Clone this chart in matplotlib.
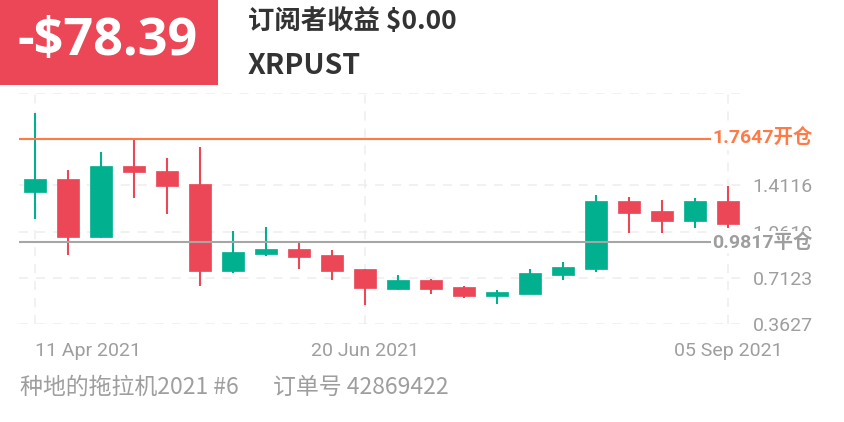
import pandas as pd
import matplotlib.pyplot as plt
import matplotlib.transforms as mtransforms
from matplotlib.patches import Rectangle

plt.rcParams['font.family'] = ['Roboto', 'Noto Sans CJK SC', 'DejaVu Sans']

# Datos semanales (velas)
fechas = ['2021-04-11', '2021-04-18', '2021-04-25', '2021-05-02', '2021-05-09', '2021-05-16',
          '2021-05-23', '2021-05-30', '2021-06-06', '2021-06-13', '2021-06-20', '2021-06-27',
          '2021-07-04', '2021-07-11', '2021-07-18', '2021-07-25', '2021-08-01', '2021-08-08',
          '2021-08-15', '2021-08-22', '2021-08-29', '2021-09-05']
apertura = [1.364, 1.460, 1.022, 1.555, 1.520, 1.419, 0.765, 0.896, 0.933, 0.886, 0.780, 0.631,
            0.699, 0.641, 0.576, 0.591, 0.732, 0.780, 1.296, 1.221, 1.143, 1.296]
maximo = [1.958, 1.525, 1.661, 1.757, 1.621, 1.699, 1.064, 1.094, 0.974, 0.926, 0.780, 0.730,
          0.705, 0.654, 0.618, 0.778, 0.835, 1.342, 1.321, 1.298, 1.316, 1.409]
minimo = [1.158, 0.886, 1.015, 1.316, 1.196, 0.647, 0.750, 0.875, 0.780, 0.694, 0.508, 0.619,
          0.588, 0.558, 0.513, 0.591, 0.692, 0.757, 1.049, 1.049, 1.090, 1.090]
cierre = [1.460, 1.019, 1.555, 1.510, 1.404, 0.765, 0.909, 0.933, 0.868, 0.765, 0.634, 0.699,
          0.629, 0.573, 0.606, 0.748, 0.795, 1.296, 1.205, 1.143, 1.296, 1.117]

precio_apertura = 1.7647
precio_cierre = 0.9817
y_ticks = [0.3627, 0.7123, 1.0619, 1.4116, 1.7612, 2.1108]
y_labels = ['0.3627', '0.7123', '1.0619', '1.4116', '', '']
x_ticks = ['2021-04-11', '2021-06-20', '2021-09-05']
x_labels = ['11 Apr 2021', '20 Jun 2021', '05 Sep 2021']

rojo = '#EB4757'
verde = '#00B08E'
naranja = '#FF7A45'
gris = '#9E9E9E'

df = pd.DataFrame({'date': pd.to_datetime(fechas), 'open': apertura, 'high': maximo,
                   'low': minimo, 'close': cierre})

fig = plt.figure(figsize=(8.44, 4.22), dpi=100)
W, H = 844, 422
ax = fig.add_axes([19 / W, 1 - 324 / H, (743 - 19) / W, (324 - 93) / H])

colores = [verde if c >= o else rojo for o, c in zip(df['open'], df['close'])]
ax.vlines(df['date'], df['low'], df['high'], colors=colores, linewidth=1.5, zorder=3)
ax.bar(df['date'], (df['close'] - df['open']).abs(), bottom=df[['open', 'close']].min(axis=1),
       width=4.67, color=colores, edgecolor=colores, linewidth=0.5, zorder=4)

ax.set_xlim(pd.Timestamp('2021-04-11') - pd.Timedelta(days=3.4),
            pd.Timestamp('2021-09-05') + pd.Timedelta(days=3.2))
ax.set_ylim(y_ticks[0], y_ticks[-1])

# Lineas de apertura y cierre
ax.axhline(precio_apertura, color=naranja, linewidth=1.5, zorder=5)
ax.axhline(precio_cierre, color='#A6A6A6', linewidth=1.5, zorder=5)

# Ejes y rejilla
ax.set_xticks(pd.to_datetime(x_ticks))
ax.set_xticklabels(x_labels, fontsize=14, color=gris)
ax.xaxis.get_ticklabels()[0].set_ha('left')
ax.set_yticks(y_ticks)
ax.set_yticklabels(y_labels, fontsize=14, color=gris)
ax.yaxis.tick_right()
ax.tick_params(axis='y', length=0, pad=50.4)
ax.tick_params(axis='x', length=0, pad=13)
for lbl in ax.get_yticklabels():
    lbl.set_ha('right')
ax.grid(True, color='#EDEDED', linewidth=1.1, linestyle=(0, (5.9, 5.2)), zorder=0)
for s in ax.spines.values():
    s.set_visible(False)

# Etiquetas de precio
trans = mtransforms.blended_transform_factory(fig.transFigure, ax.transData)
ax.text(813 / W, precio_apertura, '1.7647开仓', transform=trans, ha='right', va='center',
        fontsize=14, fontweight='bold', color=naranja, zorder=10, clip_on=False,
        bbox=dict(facecolor='white', edgecolor='none', pad=1.0))
ax.text(813 / W, precio_cierre, '0.9817平仓', transform=trans, ha='right', va='center',
        fontsize=14, fontweight='bold', color=gris, zorder=10, clip_on=False,
        bbox=dict(facecolor='white', edgecolor='none', pad=1.0))

# Cabecera
fig.patches.append(Rectangle((0, 1 - 85 / H), 218 / W, 85 / H, transform=fig.transFigure,
                             facecolor=rojo, edgecolor='none'))
fig.text(108 / W, 1 - 42 / H, '-$78.39', ha='center', va='center', fontsize=37.5,
         fontweight='bold', color='white', family=['Open Sans', 'DejaVu Sans'])
fig.text(248 / W, 1 - 22 / H, '订阅者收益 $0.00', ha='left', va='center', fontsize=19,
         fontweight='bold', color='#333333', family=['Noto Sans CJK SC', 'DejaVu Sans'])
fig.text(248 / W, 1 - 66 / H, 'XRPUST', ha='left', va='center', fontsize=20.5,
         fontweight='bold', color='#333333', family=['Noto Sans CJK SC', 'DejaVu Sans'])

# Pie
fig.text(20 / W, 1 - 387 / H, '种地的拖拉机2021 #6', ha='left', va='center', fontsize=16.5,
         color=gris, family=['Noto Sans CJK SC', 'DejaVu Sans'])
fig.text(273 / W, 1 - 387 / H, '订单号 42869422', ha='left', va='center', fontsize=16.5,
         color=gris, family=['Noto Sans CJK SC', 'DejaVu Sans'])

fig.savefig('out.png', dpi=100, facecolor='white')
